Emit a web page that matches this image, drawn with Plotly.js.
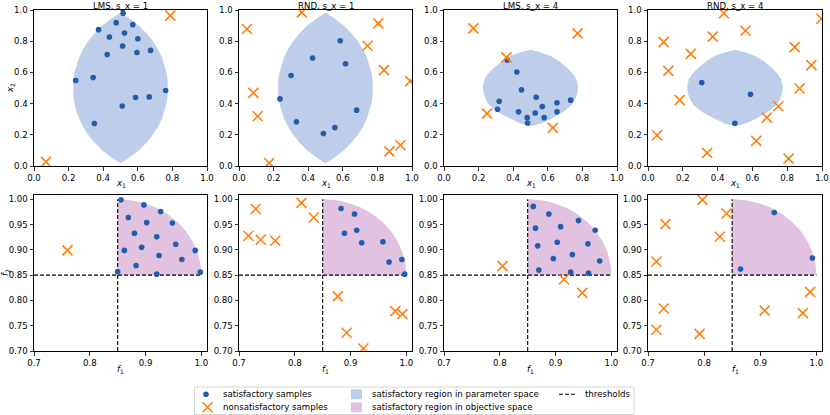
<!DOCTYPE html>
<html><head><meta charset="utf-8">
<script src="https://cdn.plot.ly/plotly-3.0.1.min.js"></script>
<style>html,body{margin:0;padding:0;background:#fff}#chart{width:830px;height:415px}</style>
</head><body><div id="chart"></div>
<script>
// ---------- titles ----------
const panelTitles = ["LMS, s_x = 1", "RND, s_x = 1", "LMS, s_x = 4", "RND, s_x = 4"];
const paramTicks = [0, 0.2, 0.4, 0.6, 0.8, 1.0];
const objXTicks = [0.7, 0.8, 0.9, 1.0];
const objYTicks = [0.70, 0.75, 0.80, 0.85, 0.90, 0.95, 1.00];
const threshold = 0.85;
const objUpper = 1.0;

// ---------- satisfactory regions in parameter space ----------
const lensX = [0.500,0.546,0.605,0.651,0.687,0.716,0.738,0.754,0.766,0.773,0.775,0.773,0.766,0.754,0.738,0.716,0.687,0.651,0.605,0.546,0.500,
               0.454,0.395,0.349,0.313,0.284,0.262,0.246,0.234,0.227,0.225,0.227,0.234,0.246,0.262,0.284,0.313,0.349,0.395,0.454,0.500];
const lensY = [0.983,0.95,0.90,0.85,0.80,0.75,0.70,0.65,0.60,0.55,0.50,0.45,0.40,0.35,0.30,0.25,0.20,0.15,0.10,0.05,0.017,
               0.05,0.10,0.15,0.20,0.25,0.30,0.35,0.40,0.45,0.50,0.55,0.60,0.65,0.70,0.75,0.80,0.85,0.90,0.95,0.983];
const roundX = [0.500,0.560,0.615,0.665,0.710,0.745,0.765,0.775,0.772,0.758,0.735,0.690,0.650,0.615,0.560,0.500,
                0.440,0.385,0.350,0.310,0.265,0.242,0.228,0.225,0.235,0.255,0.290,0.335,0.385,0.440,0.500];
const roundY = [0.745,0.728,0.706,0.672,0.632,0.592,0.558,0.510,0.470,0.425,0.388,0.348,0.322,0.300,0.273,0.255,
                0.273,0.300,0.322,0.348,0.388,0.425,0.470,0.510,0.558,0.592,0.632,0.672,0.706,0.728,0.745];

// ---------- LMS, s_x = 1 ----------
const lmsS1SatX = [0.515,0.475,0.571,0.373,0.523,0.436,0.600,0.512,0.674,0.595,0.423,0.241,0.342,0.761,0.666,0.587,0.510,0.349];
const lmsS1SatY = [0.979,0.919,0.906,0.874,0.852,0.827,0.816,0.769,0.741,0.728,0.715,0.548,0.567,0.484,0.443,0.439,0.385,0.272];
const lmsS1NonX = [0.788,0.069];
const lmsS1NonY = [0.964,0.026];
const lmsS1SatF1 = [0.856,0.897,0.927,0.869,0.902,0.948,0.880,0.920,0.893,0.862,0.954,0.989,0.924,0.965,0.883,0.920,0.998,0.850];
const lmsS1SatF2 = [0.999,0.989,0.976,0.964,0.954,0.953,0.933,0.926,0.905,0.899,0.911,0.899,0.889,0.881,0.869,0.852,0.856,0.857];
const lmsS1NonF1 = [0.760];
const lmsS1NonF2 = [0.899];

// ---------- RND, s_x = 1 ----------
const rndS1SatX = [0.585,0.425,0.616,0.301,0.237,0.680,0.332,0.554,0.488];
const rndS1SatY = [0.803,0.692,0.655,0.580,0.430,0.358,0.283,0.246,0.208];
const rndS1NonX = [0.363,0.046,0.805,0.743,0.838,0.083,0.108,0.990,0.869,0.934,0.174];
const rndS1NonY = [0.985,0.878,0.914,0.771,0.615,0.469,0.319,0.544,0.094,0.133,0.019];
const rndS1SatF1 = [0.883,0.907,0.889,0.911,0.920,0.958,0.969,0.992,0.997];
const rndS1SatF2 = [0.982,0.971,0.933,0.939,0.914,0.916,0.876,0.881,0.852];
const rndS1NonF1 = [0.730,0.812,0.834,0.717,0.739,0.765,0.877,0.893,0.923,0.980,0.993];
const rndS1NonF2 = [0.981,0.993,0.964,0.928,0.920,0.918,0.808,0.736,0.705,0.779,0.773];

// ---------- LMS, s_x = 4 ----------
const lmsS4SatX = [0.365,0.421,0.448,0.533,0.319,0.653,0.732,0.568,0.309,0.431,0.653,0.527,0.481,0.579,0.483];
const lmsS4SatY = [0.679,0.602,0.488,0.441,0.415,0.405,0.422,0.381,0.364,0.347,0.347,0.340,0.310,0.310,0.276];
const lmsS4NonX = [0.170,0.772,0.361,0.249,0.629];
const lmsS4NonY = [0.882,0.850,0.696,0.336,0.244];
const lmsS4SatF1 = [0.860,0.888,0.941,0.864,0.909,0.971,0.868,0.903,0.958,0.896,0.930,0.979,0.870,0.927,0.959];
const lmsS4SatF2 = [0.986,0.971,0.958,0.943,0.946,0.939,0.908,0.915,0.912,0.883,0.891,0.878,0.860,0.856,0.854];
const lmsS4NonF1 = [0.805,0.915,0.948];
const lmsS4NonF2 = [0.868,0.842,0.815];

// ---------- RND, s_x = 4 ----------
const rndS4SatX = [0.309,0.589,0.499];
const rndS4SatY = [0.535,0.460,0.274];
const rndS4NonX = [0.436,0.560,0.372,0.090,0.246,0.843,0.117,0.939,0.996,0.871,0.182,0.749,0.683,0.622,0.340,0.052,0.808];
const rndS4NonY = [0.979,0.867,0.829,0.794,0.719,0.762,0.610,0.647,0.944,0.497,0.422,0.383,0.310,0.161,0.084,0.197,0.047];
const rndS4SatF1 = [0.925,0.865,0.993];
const rndS4SatF2 = [0.974,0.862,0.884];
const rndS4NonF1 = [0.797,0.840,0.731,0.828,0.715,0.728,0.715,0.792,0.908,0.976,0.989];
const rndS4NonF2 = [0.999,0.972,0.951,0.926,0.877,0.784,0.742,0.734,0.780,0.775,0.817];

// ---------- legend texts ----------
const legendLabels = ["satisfactory samples", "nonsatisfactory samples",
  "satisfactory region in parameter space", "satisfactory region in objective space", "thresholds"];

// ---------- styles ----------
const W = 830, H = 415;
const FONT = 'DejaVu Sans';
const FS = 8.6;
const blue = 'rgb(33,93,172)';
const orange = '#ff7f0e';
const paramFill = 'rgba(72,116,196,0.36)';
const objFill = 'rgba(128,0,128,0.24)';

const colPx = [[34,207],[239,412],[444,617],[648,822]];
const topPx = [10,166], botPx = [195,351];
const xd = p => [p[0]/W, p[1]/W];
const yd = p => [1 - p[1]/H, 1 - p[0]/H];

const params = [
  {rx: lensX, ry: lensY, sx: lmsS1SatX, sy: lmsS1SatY, nx: lmsS1NonX, ny: lmsS1NonY, sf1: lmsS1SatF1, sf2: lmsS1SatF2, nf1: lmsS1NonF1, nf2: lmsS1NonF2},
  {rx: lensX, ry: lensY, sx: rndS1SatX, sy: rndS1SatY, nx: rndS1NonX, ny: rndS1NonY, sf1: rndS1SatF1, sf2: rndS1SatF2, nf1: rndS1NonF1, nf2: rndS1NonF2},
  {rx: roundX, ry: roundY, sx: lmsS4SatX, sy: lmsS4SatY, nx: lmsS4NonX, ny: lmsS4NonY, sf1: lmsS4SatF1, sf2: lmsS4SatF2, nf1: lmsS4NonF1, nf2: lmsS4NonF2},
  {rx: roundX, ry: roundY, sx: rndS4SatX, sy: rndS4SatY, nx: rndS4NonX, ny: rndS4NonY, sf1: rndS4SatF1, sf2: rndS4SatF2, nf1: rndS4NonF1, nf2: rndS4NonF2}
];

// objective-space region: quarter disc bounded by the thresholds and objUpper
const rad = objUpper - threshold;
const arcF1 = [threshold], arcF2 = [threshold];
for (let i = 0; i <= 60; i++) {
  const a = Math.PI/2 * (1 - i/60);
  arcF1.push(threshold + rad*Math.cos(a));
  arcF2.push(threshold + rad*Math.sin(a));
}
arcF1.push(threshold); arcF2.push(threshold);

const satMarker = () => ({symbol:'circle', size:5.6, color:blue});
const nonMarker = () => ({symbol:'x-thin', size:10, color:orange, line:{color:orange, width:1.6}});

const traces = [];
const layout = {
  width: W, height: H, margin:{l:0,r:0,t:0,b:0},
  paper_bgcolor:'#fff', plot_bgcolor:'rgba(0,0,0,0)', showlegend:false,
  font:{family:FONT, size:FS, color:'#000'},
  shapes:[], annotations:[]
};

function axisBase(){
  return {showline:true, mirror:true, linecolor:'#000', linewidth:1, ticks:'outside', ticklen:3.5,
    tickwidth:0.8, tickcolor:'#000', showgrid:false, zeroline:false, fixedrange:true,
    tickfont:{family:FONT, size:FS, color:'#000'}};
}

for (let k = 0; k < 4; k++) {
  const p = params[k];
  const ti = k + 1, bi = k + 5;
  const tx = 'x' + ti, ty = 'y' + ti, bx = 'x' + bi, by = 'y' + bi;
  const tkx = ti === 1 ? '' : ti, tkb = bi;
  // top: parameter space
  layout['xaxis' + tkx] = Object.assign(axisBase(), {domain: xd(colPx[k]), anchor: ty, range:[0,1],
    tickvals: paramTicks, tickformat:'.1f'});
  layout['yaxis' + tkx] = Object.assign(axisBase(), {domain: yd(topPx), anchor: tx, range:[0,1],
    tickvals: paramTicks, tickformat:'.1f'});
  traces.push({x:p.rx, y:p.ry, xaxis:tx, yaxis:ty, mode:'lines', fill:'toself', fillcolor:paramFill,
    line:{width:0, color:'rgba(0,0,0,0)'}, hoverinfo:'skip'});
  traces.push({x:p.sx, y:p.sy, xaxis:tx, yaxis:ty, mode:'markers', marker:satMarker()});
  traces.push({x:p.nx, y:p.ny, xaxis:tx, yaxis:ty, mode:'markers', marker:nonMarker()});
  // bottom: objective space
  layout['xaxis' + tkb] = Object.assign(axisBase(), {domain: xd(colPx[k]), anchor: by, range:[0.7,1.0101],
    tickvals: objXTicks, tickformat:'.1f'});
  layout['yaxis' + tkb] = Object.assign(axisBase(), {domain: yd(botPx), anchor: bx, range:[0.7,1.0086],
    tickvals: objYTicks, tickformat:'.2f'});
  traces.push({x:arcF1, y:arcF2, xaxis:bx, yaxis:by, mode:'lines', fill:'toself', fillcolor:objFill,
    line:{width:0, color:'rgba(0,0,0,0)'}, hoverinfo:'skip'});
  traces.push({x:[0.7, objUpper], y:[threshold, threshold], xaxis:bx, yaxis:by, mode:'lines',
    line:{color:'#000', width:1.1, dash:'4px,2px'}});
  traces.push({x:[threshold, threshold], y:[0.7, objUpper], xaxis:bx, yaxis:by, mode:'lines',
    line:{color:'#000', width:1.1, dash:'4px,2px'}});
  traces.push({x:p.sf1, y:p.sf2, xaxis:bx, yaxis:by, mode:'markers', marker:satMarker()});
  traces.push({x:p.nf1, y:p.nf2, xaxis:bx, yaxis:by, mode:'markers', marker:nonMarker()});

  // titles and axis labels (annotations)
  const cx = (colPx[k][0] + colPx[k][1]) / 2 / W;
  layout.annotations.push({text: panelTitles[k], xref:'paper', yref:'paper', x:cx, y:1 + 1.5/H,
    xanchor:'center', yanchor:'top', showarrow:false, font:{family:FONT, size:FS, color:'#000'}});
  layout.annotations.push({text:'<i>x</i><sub>1</sub>', xref:'paper', yref:'paper', x:cx, y:1 - 183/H,
    xanchor:'center', yanchor:'middle', showarrow:false, font:{family:FONT, size:FS, color:'#000'}});
  layout.annotations.push({text:'<i>f</i><sub>1</sub>', xref:'paper', yref:'paper', x:cx, y:1 - 369/H,
    xanchor:'center', yanchor:'middle', showarrow:false, font:{family:FONT, size:FS, color:'#000'}});
}
layout.annotations.push({text:'<i>x</i><sub>2</sub>', xref:'paper', yref:'paper', x:10/W, y:1 - 88/H,
  xanchor:'center', yanchor:'middle', textangle:-90, showarrow:false, font:{family:FONT, size:FS, color:'#000'}});
layout.annotations.push({text:'<i>f</i><sub>2</sub>', xref:'paper', yref:'paper', x:5/W, y:1 - 273/H,
  xanchor:'center', yanchor:'middle', textangle:-90, showarrow:false, font:{family:FONT, size:FS, color:'#000'}});

// ---------- hand-built legend on a hidden pixel-scaled axis ----------
layout.xaxis9 = {domain:[0,1], range:[0, W], visible:false, fixedrange:true, anchor:'y9'};
layout.yaxis9 = {domain:[0,1], range:[H, 0], visible:false, fixedrange:true, anchor:'x9'};
const row1 = 394.3, row2 = 407.3;
layout.shapes.push({type:'rect', xref:'x9', yref:'y9', x0:194.5, x1:634, y0:387, y1:414.5,
  line:{color:'#cccccc', width:0.8}, fillcolor:'#ffffff', layer:'below'});
traces.push({x:[206], y:[row1], xaxis:'x9', yaxis:'y9', mode:'markers', marker:satMarker(), cliponaxis:false});
traces.push({x:[207.5], y:[row2], xaxis:'x9', yaxis:'y9', mode:'markers', marker:nonMarker(), cliponaxis:false});
layout.shapes.push({type:'rect', xref:'x9', yref:'y9', x0:351, x1:362, y0:row1-5, y1:row1+5,
  line:{width:0}, fillcolor:paramFill, layer:'above'});
layout.shapes.push({type:'rect', xref:'x9', yref:'y9', x0:351, x1:362, y0:row2-5, y1:row2+5,
  line:{width:0}, fillcolor:objFill, layer:'above'});
traces.push({x:[559, 577], y:[row1, row1], xaxis:'x9', yaxis:'y9', mode:'lines',
  line:{color:'#000', width:1.1, dash:'4px,2px'}, cliponaxis:false});
const legPos = [[221,row1],[221,row2],[370,row1],[370,row2],[582.5,row1]];
legendLabels.forEach((t, i) => {
  layout.annotations.push({text:t, xref:'x9', yref:'y9', x:legPos[i][0], y:legPos[i][1],
    xanchor:'left', yanchor:'middle', showarrow:false, font:{family:FONT, size:FS, color:'#000'}});
});

Plotly.newPlot('chart', traces, layout, {staticPlot:true, displayModeBar:false});
</script></body></html>
